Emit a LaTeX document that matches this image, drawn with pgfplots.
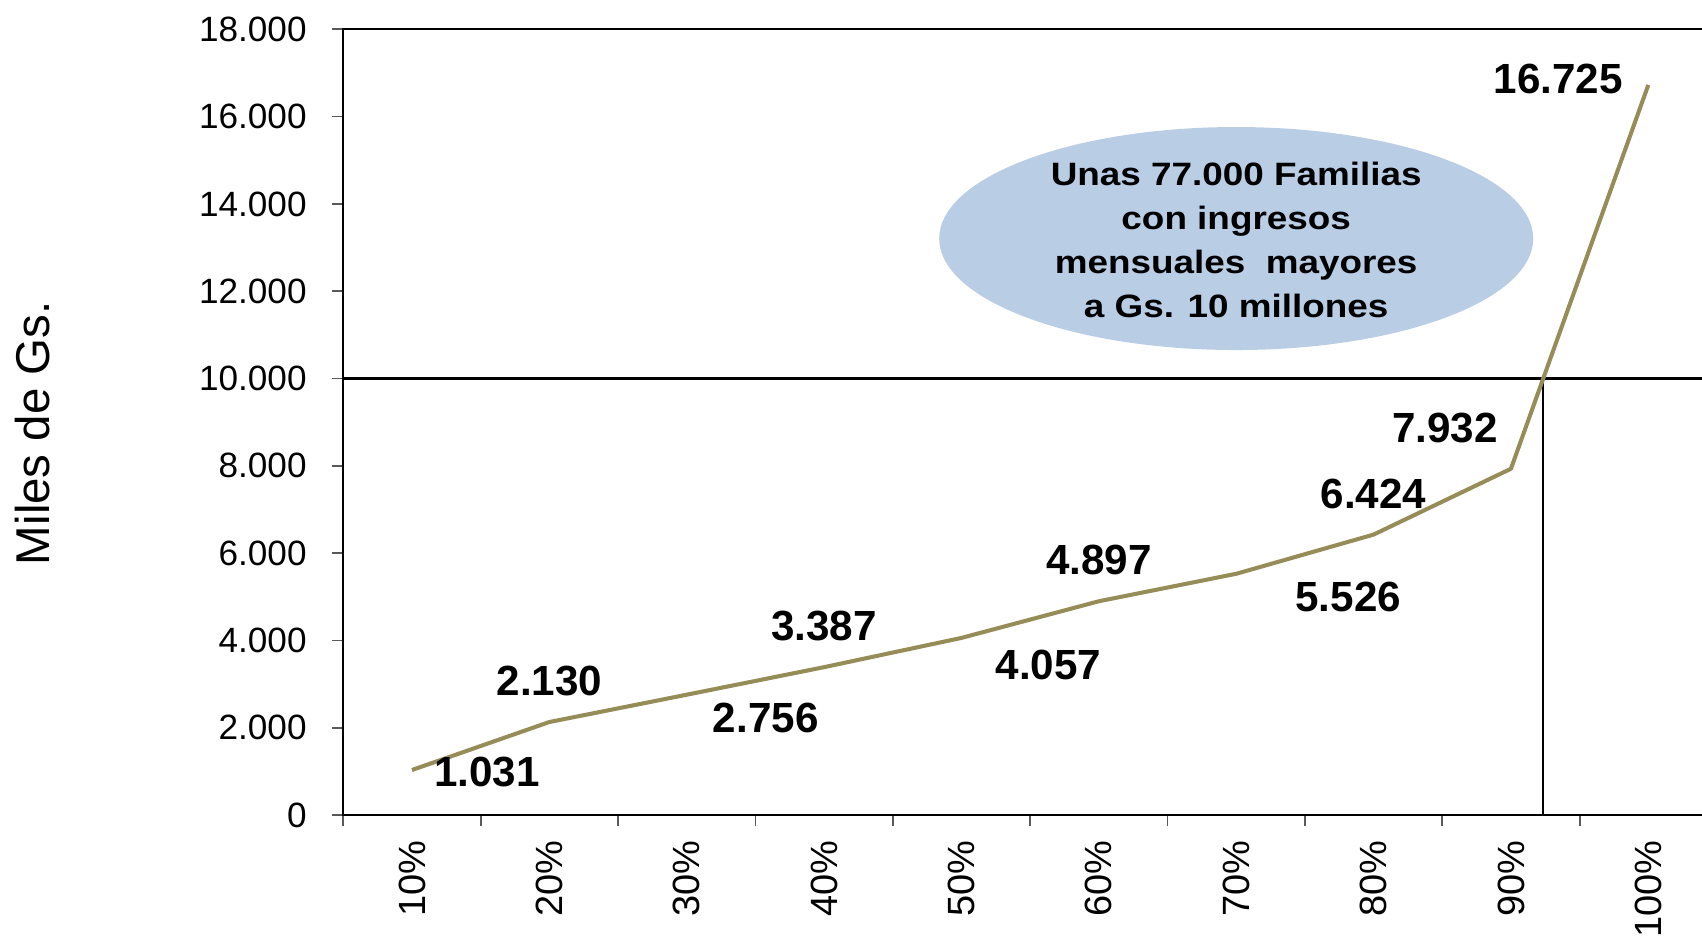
\documentclass[border=0pt]{standalone}
\usepackage{fontspec}
\setmainfont{Liberation Sans}
\newfontfamily\ovalfont[FakeStretch=1.14]{Liberation Sans}
\usepackage{pgfplots}
\pgfplotsset{compat=1.18}
\usepackage{pgfplotstable}

\definecolor{olivel}{RGB}{150,140,88}
\definecolor{ovalblue}{RGB}{185,205,229}

% decile, income (miles de Gs.)
\pgfplotstableread{
x y
0 1031
1 2130
2 2756
3 3387
4 4057
5 4897
6 5526
7 6424
8 7932
9 16725
}\deciles

% where each value label sits
\pgfplotstableread{
lx ly lab
0.546 985 1.031
1 3069 2.130
2.575 2229 2.756
3 4326 3.387
4.633 3438 4.057
5 5836 4.897
6.815 4999 5.526
7 7363 6.424
7.520 8871 7.932
8.345 16862 16.725
}\labels

\begin{document}
\begin{tikzpicture}
\useasboundingbox (-34.33mm,-12.2mm) rectangle (135.87mm,81.5mm);
\clip (-34.33mm,-12.2mm) rectangle (135.87mm,81.5mm);
\begin{axis}[
  at={(0,0)}, anchor=south west,
  scale only axis, width=137.37mm, height=78.57mm,
  xmin=-0.5, xmax=9.5, ymin=0, ymax=18000,
  clip=false,
  axis line style={line width=0.6pt},
  xtick={-0.5,0.5,...,9.5}, xticklabels={},
  extra x ticks={0,1,2,3,4,5,6,7,8,9},
  extra x tick labels={10\%,20\%,30\%,40\%,50\%,60\%,70\%,80\%,90\%,100\%},
  extra x tick style={major tick length=0pt, xticklabel shift=2.5mm,
    tick label style={rotate=90, anchor=east, inner sep=0pt, font=\fontsize{10.8}{13}\selectfont}},
  xtick pos=left, ytick pos=left,
  ytick={0,2000,...,18000},
  tick align=outside, major tick length=1.1mm,
  tick style={black!65, line width=0.5pt},
  scaled y ticks=false,
  yticklabel shift=2.5mm,
  yticklabel style={inner sep=0pt, anchor=east, font=\fontsize{10}{12}\selectfont,
    /pgf/number format/1000 sep={.}, /pgf/number format/assume math mode=true},
  ylabel={Miles de Gs.},
  ylabel style={at={(axis description cs:-0.2263,0.486)}, anchor=center, font=\fontsize{13.5}{16}\selectfont},
]
\fill[ovalblue] (axis cs:6.0,13207) ellipse [x radius=29.7mm, y radius=11.15mm];
\node[align=center, font=\ovalfont\bfseries\fontsize{9.2}{12.5}\selectfont]
  at (axis cs:6.0,13180) {Unas 77.000 Familias\\con ingresos\\mensuales\ \ mayores\\a Gs. 10 millones};

\addplot[black, line width=0.6pt, forget plot] coordinates {(-0.5,10000) (9.5,10000)};
\addplot[black, line width=0.6pt, forget plot] coordinates {(8.235,0) (8.235,10000)};

\addplot[olivel, line width=1.15pt, line join=round, mark=none] table[x=x, y=y] {\deciles};

\addplot[draw=none, mark=none, nodes near coords, point meta=explicit symbolic,
  every node near coord/.style={black, anchor=center, inner sep=0pt,
    font=\fontsize{12}{14}\selectfont\bfseries}]
  table[x=lx, y=ly, meta=lab] {\labels};
\end{axis}
\end{tikzpicture}
\end{document}
